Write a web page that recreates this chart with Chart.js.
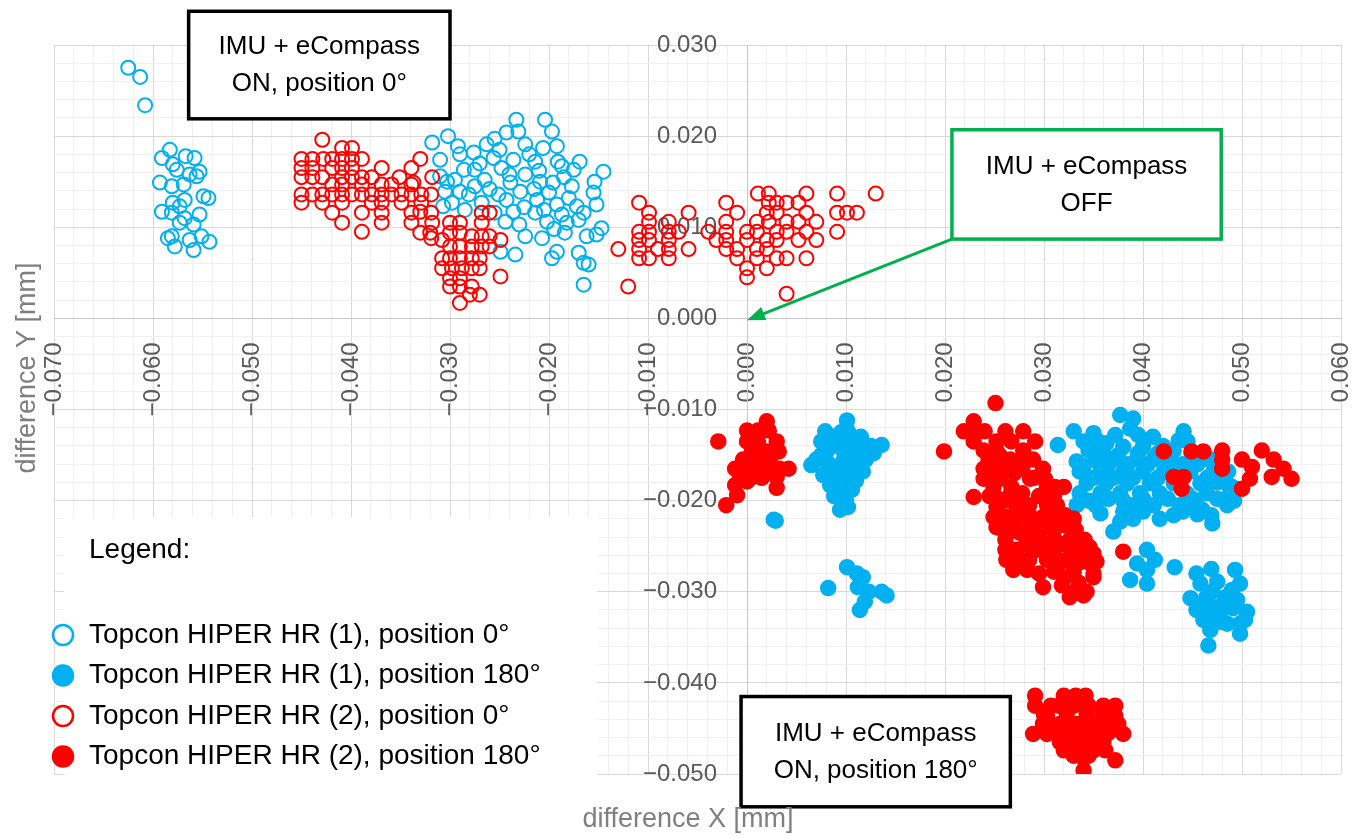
<!DOCTYPE html>
<html>
<head>
<meta charset="utf-8">
<title>difference X / difference Y</title>
<script src="https://cdn.jsdelivr.net/npm/chart.js@4.4.1/dist/chart.umd.min.js"></script>
<style>
  body { margin: 0; background: #ffffff; }
  canvas { display: block; }
</style>
</head>
<body>
<canvas id="scatterplot" width="1365" height="838"></canvas>
<script>
// all values in mm: [difference X, difference Y]
var hiper1Pos0 = [
  [-0.0625, 0.0275], [-0.0613, 0.0265], [-0.0608, 0.0234],
  [-0.0583, 0.0185], [-0.0591, 0.0176], [-0.0567, 0.0178], [-0.0558, 0.0176], [-0.0580, 0.0169],
  [-0.0576, 0.0163], [-0.0553, 0.0161], [-0.0563, 0.0158], [-0.0556, 0.0156], [-0.0593, 0.0149],
  [-0.0581, 0.0145], [-0.0569, 0.0147], [-0.0549, 0.0134], [-0.0544, 0.0132], [-0.0580, 0.0127],
  [-0.0568, 0.0130], [-0.0573, 0.0123], [-0.0591, 0.0117], [-0.0581, 0.0116], [-0.0553, 0.0114],
  [-0.0568, 0.0110], [-0.0559, 0.0103], [-0.0573, 0.0105], [-0.0581, 0.0090], [-0.0551, 0.0090],
  [-0.0543, 0.0084], [-0.0563, 0.0086], [-0.0578, 0.0079], [-0.0559, 0.0075], [-0.0585, 0.0088],
  [-0.0233, 0.0218], [-0.0204, 0.0218], [-0.0197, 0.0205], [-0.0231, 0.0205], [-0.0302, 0.0200],
  [-0.0318, 0.0193], [-0.0243, 0.0204], [-0.0255, 0.0197], [-0.0224, 0.0191], [-0.0192, 0.0189],
  [-0.0292, 0.0189], [-0.0263, 0.0191], [-0.0206, 0.0187], [-0.0276, 0.0182], [-0.0290, 0.0180],
  [-0.0310, 0.0174], [-0.0256, 0.0176], [-0.0236, 0.0174], [-0.0214, 0.0172], [-0.0191, 0.0172],
  [-0.0169, 0.0172], [-0.0145, 0.0161], [-0.0286, 0.0163], [-0.0275, 0.0163], [-0.0248, 0.0165],
  [-0.0224, 0.0158], [-0.0187, 0.0167], [-0.0175, 0.0163], [-0.0303, 0.0150], [-0.0295, 0.0152],
  [-0.0265, 0.0152], [-0.0239, 0.0149], [-0.0209, 0.0150], [-0.0196, 0.0149], [-0.0154, 0.0150],
  [-0.0305, 0.0139], [-0.0281, 0.0136], [-0.0251, 0.0136], [-0.0229, 0.0139], [-0.0177, 0.0145],
  [-0.0155, 0.0138], [-0.0298, 0.0127], [-0.0268, 0.0127], [-0.0243, 0.0130], [-0.0212, 0.0130],
  [-0.0192, 0.0125], [-0.0172, 0.0123], [-0.0152, 0.0125], [-0.0285, 0.0119], [-0.0255, 0.0116],
  [-0.0236, 0.0117], [-0.0214, 0.0116], [-0.0187, 0.0114], [-0.0165, 0.0116], [-0.0244, 0.0106],
  [-0.0202, 0.0106], [-0.0182, 0.0105], [-0.0147, 0.0099], [-0.0224, 0.0090], [-0.0207, 0.0088],
  [-0.0184, 0.0094], [-0.0162, 0.0090], [-0.0152, 0.0092], [-0.0249, 0.0073], [-0.0234, 0.0070],
  [-0.0192, 0.0073], [-0.0170, 0.0072], [-0.0197, 0.0066], [-0.0165, 0.0061], [-0.0160, 0.0059],
  [-0.0165, 0.0037], [-0.0310, 0.0156], [-0.0307, 0.0123], [-0.0270, 0.0170], [-0.0250, 0.0185],
  [-0.0220, 0.0180], [-0.0210, 0.0162], [-0.0260, 0.0142], [-0.0240, 0.0158], [-0.0200, 0.0138],
  [-0.0180, 0.0132], [-0.0225, 0.0122], [-0.0275, 0.0145], [-0.0290, 0.0139], [-0.0205, 0.0119],
  [-0.0170, 0.0108], [-0.0230, 0.0103], [-0.0195, 0.0098], [-0.0215, 0.0142], [-0.0185, 0.0155]
];

var hiper1Pos180 = [
  [0.0101, -0.0112], [0.0079, -0.0124], [0.0102, -0.0124], [0.0075, -0.0135], [0.0091, -0.0134],
  [0.0106, -0.0134], [0.0136, -0.0139], [0.0081, -0.0145], [0.0097, -0.0145], [0.0117, -0.0145],
  [0.0128, -0.0148], [0.0065, -0.0161], [0.0082, -0.0159], [0.0097, -0.0157], [0.0111, -0.0159],
  [0.0077, -0.0172], [0.0091, -0.0172], [0.0104, -0.0172], [0.0117, -0.0168], [0.0084, -0.0183],
  [0.0094, -0.0183], [0.0106, -0.0188], [0.0094, -0.0210], [0.0102, -0.0207], [0.0027, -0.0221],
  [0.0029, -0.0222], [0.0088, -0.0130], [0.0100, -0.0165], [0.0089, -0.0166], [0.0098, -0.0192],
  [0.0110, -0.0142], [0.0070, -0.0155], [0.0085, -0.0140], [0.0095, -0.0125], [0.0115, -0.0130],
  [0.0120, -0.0155], [0.0080, -0.0170], [0.0095, -0.0175], [0.0110, -0.0178], [0.0088, -0.0195],
  [0.0100, -0.0200], [0.0125, -0.0140], [0.0075, -0.0150], [0.0105, -0.0150],
  [0.0082, -0.0296], [0.0101, -0.0273], [0.0111, -0.0280], [0.0117, -0.0284], [0.0112, -0.0295],
  [0.0123, -0.0300], [0.0136, -0.0300], [0.0141, -0.0304], [0.0114, -0.0320], [0.0119, -0.0311],
  [0.0377, -0.0106], [0.0390, -0.0110], [0.0330, -0.0124], [0.0350, -0.0126], [0.0387, -0.0121],
  [0.0441, -0.0124], [0.0436, -0.0134], [0.0314, -0.0139], [0.0340, -0.0135], [0.0363, -0.0137],
  [0.0380, -0.0141], [0.0400, -0.0141], [0.0431, -0.0145], [0.0449, -0.0148], [0.0333, -0.0157],
  [0.0352, -0.0156], [0.0372, -0.0154], [0.0394, -0.0154], [0.0411, -0.0154], [0.0336, -0.0168],
  [0.0357, -0.0168], [0.0380, -0.0168], [0.0400, -0.0168], [0.0421, -0.0168], [0.0448, -0.0168],
  [0.0471, -0.0168], [0.0486, -0.0168], [0.0343, -0.0181], [0.0363, -0.0181], [0.0384, -0.0181],
  [0.0407, -0.0181], [0.0431, -0.0181], [0.0458, -0.0181], [0.0485, -0.0181], [0.0336, -0.0192],
  [0.0357, -0.0192], [0.0377, -0.0192], [0.0397, -0.0192], [0.0417, -0.0192], [0.0444, -0.0192],
  [0.0464, -0.0192], [0.0488, -0.0192], [0.0333, -0.0205], [0.0352, -0.0205], [0.0390, -0.0205],
  [0.0411, -0.0205], [0.0437, -0.0205], [0.0454, -0.0205], [0.0485, -0.0205], [0.0357, -0.0214],
  [0.0417, -0.0220], [0.0431, -0.0216], [0.0469, -0.0216], [0.0377, -0.0223], [0.0390, -0.0220],
  [0.0370, -0.0234], [0.0360, -0.0148], [0.0420, -0.0158], [0.0460, -0.0155], [0.0475, -0.0180],
  [0.0410, -0.0130], [0.0345, -0.0145], [0.0355, -0.0135], [0.0372, -0.0128], [0.0395, -0.0128],
  [0.0420, -0.0140], [0.0440, -0.0160], [0.0455, -0.0160], [0.0470, -0.0155], [0.0350, -0.0175],
  [0.0370, -0.0175], [0.0390, -0.0175], [0.0415, -0.0175], [0.0440, -0.0175], [0.0465, -0.0175],
  [0.0345, -0.0200], [0.0365, -0.0198], [0.0380, -0.0200], [0.0400, -0.0198], [0.0425, -0.0198],
  [0.0450, -0.0198], [0.0475, -0.0198], [0.0380, -0.0212], [0.0400, -0.0212], [0.0440, -0.0212],
  [0.0460, -0.0210], [0.0365, -0.0160], [0.0385, -0.0160], [0.0405, -0.0160], [0.0430, -0.0160],
  [0.0340, -0.0162], [0.0375, -0.0150], [0.0395, -0.0148], [0.0415, -0.0148], [0.0445, -0.0135],
  [0.0490, -0.0185], [0.0492, -0.0200], [0.0470, -0.0225], [0.0455, -0.0215],
  [0.0404, -0.0254], [0.0412, -0.0265], [0.0394, -0.0269], [0.0404, -0.0276], [0.0387, -0.0287],
  [0.0404, -0.0291], [0.0432, -0.0273],
  [0.0454, -0.0280], [0.0469, -0.0275], [0.0493, -0.0276], [0.0458, -0.0291], [0.0475, -0.0289],
  [0.0498, -0.0291], [0.0448, -0.0307], [0.0464, -0.0306], [0.0483, -0.0306], [0.0495, -0.0309],
  [0.0454, -0.0320], [0.0475, -0.0317], [0.0491, -0.0318], [0.0505, -0.0322], [0.0461, -0.0331],
  [0.0478, -0.0333], [0.0498, -0.0335], [0.0503, -0.0331], [0.0468, -0.0342], [0.0498, -0.0346],
  [0.0466, -0.0359], [0.0470, -0.0300], [0.0480, -0.0320], [0.0460, -0.0315], [0.0490, -0.0298],
  [0.0485, -0.0335], [0.0470, -0.0325]
];

var hiper2Pos0 = [
  [-0.0429, 0.0196], [-0.0409, 0.0187], [-0.0399, 0.0187],
  [-0.0450, 0.0175], [-0.0439, 0.0175], [-0.0428, 0.0175], [-0.0419, 0.0175], [-0.0409, 0.0175],
  [-0.0399, 0.0175], [-0.0389, 0.0175], [-0.0330, 0.0175],
  [-0.0450, 0.0165], [-0.0439, 0.0165], [-0.0419, 0.0165], [-0.0409, 0.0165], [-0.0399, 0.0165],
  [-0.0369, 0.0165], [-0.0339, 0.0165],
  [-0.0450, 0.0155], [-0.0439, 0.0155], [-0.0429, 0.0155], [-0.0409, 0.0155], [-0.0399, 0.0155],
  [-0.0389, 0.0155], [-0.0379, 0.0155], [-0.0351, 0.0155], [-0.0318, 0.0155],
  [-0.0419, 0.0147], [-0.0409, 0.0147], [-0.0389, 0.0147], [-0.0369, 0.0147], [-0.0359, 0.0147],
  [-0.0339, 0.0147], [-0.0337, 0.0149],
  [-0.0450, 0.0136], [-0.0439, 0.0136], [-0.0429, 0.0136], [-0.0419, 0.0136], [-0.0409, 0.0136],
  [-0.0399, 0.0136], [-0.0389, 0.0136], [-0.0379, 0.0136], [-0.0369, 0.0136], [-0.0359, 0.0136],
  [-0.0349, 0.0136], [-0.0339, 0.0136], [-0.0329, 0.0136], [-0.0319, 0.0136],
  [-0.0450, 0.0127], [-0.0429, 0.0127], [-0.0409, 0.0127], [-0.0379, 0.0127], [-0.0369, 0.0127],
  [-0.0349, 0.0127], [-0.0329, 0.0127],
  [-0.0419, 0.0116], [-0.0389, 0.0116], [-0.0369, 0.0116], [-0.0339, 0.0116], [-0.0319, 0.0116],
  [-0.0330, 0.0117], [-0.0268, 0.0116], [-0.0260, 0.0116],
  [-0.0409, 0.0105], [-0.0369, 0.0105], [-0.0339, 0.0105], [-0.0318, 0.0105], [-0.0300, 0.0105],
  [-0.0290, 0.0105], [-0.0268, 0.0105],
  [-0.0389, 0.0095], [-0.0330, 0.0094], [-0.0320, 0.0094], [-0.0300, 0.0094], [-0.0290, 0.0094],
  [-0.0319, 0.0088], [-0.0308, 0.0086], [-0.0278, 0.0090], [-0.0268, 0.0090], [-0.0260, 0.0090],
  [-0.0249, 0.0086],
  [-0.0300, 0.0079], [-0.0290, 0.0079], [-0.0278, 0.0079], [-0.0268, 0.0079], [-0.0260, 0.0079],
  [-0.0308, 0.0066], [-0.0300, 0.0066], [-0.0290, 0.0066], [-0.0278, 0.0066], [-0.0270, 0.0066],
  [-0.0308, 0.0055], [-0.0298, 0.0055], [-0.0288, 0.0055], [-0.0278, 0.0055], [-0.0270, 0.0055],
  [-0.0300, 0.0044], [-0.0290, 0.0044], [-0.0249, 0.0046],
  [-0.0300, 0.0035], [-0.0290, 0.0035], [-0.0278, 0.0035], [-0.0280, 0.0026], [-0.0270, 0.0026],
  [-0.0290, 0.0017],
  [-0.0130, 0.0076], [-0.0120, 0.0035],
  [0.0011, 0.0137], [0.0022, 0.0137], [0.0060, 0.0137], [0.0091, 0.0137], [0.0130, 0.0137],
  [-0.0109, 0.0127], [-0.0021, 0.0127], [0.0022, 0.0127], [0.0030, 0.0127], [0.0040, 0.0127],
  [0.0052, 0.0127],
  [-0.0099, 0.0116], [-0.0059, 0.0116], [-0.0010, 0.0116], [0.0020, 0.0116], [0.0030, 0.0116],
  [0.0060, 0.0116], [0.0091, 0.0116], [0.0101, 0.0116], [0.0111, 0.0116],
  [-0.0099, 0.0106], [-0.0079, 0.0106], [-0.0021, 0.0106], [0.0010, 0.0106], [0.0022, 0.0106],
  [0.0040, 0.0106], [0.0052, 0.0106], [0.0070, 0.0106],
  [-0.0109, 0.0095], [-0.0099, 0.0095], [-0.0079, 0.0095], [-0.0069, 0.0095], [-0.0039, 0.0095],
  [-0.0021, 0.0095], [0.0000, 0.0095], [0.0010, 0.0095], [0.0030, 0.0095], [0.0040, 0.0095],
  [0.0060, 0.0095], [0.0091, 0.0095],
  [-0.0109, 0.0086], [-0.0099, 0.0086], [-0.0079, 0.0086], [-0.0031, 0.0086], [-0.0021, 0.0086],
  [0.0000, 0.0086], [0.0020, 0.0086], [0.0030, 0.0086], [0.0052, 0.0086], [0.0070, 0.0086],
  [-0.0109, 0.0076], [-0.0090, 0.0076], [-0.0079, 0.0076], [-0.0059, 0.0076], [-0.0021, 0.0076],
  [-0.0010, 0.0076], [0.0010, 0.0076], [0.0020, 0.0076],
  [-0.0109, 0.0066], [-0.0099, 0.0066], [-0.0079, 0.0066], [-0.0010, 0.0066], [0.0010, 0.0066],
  [0.0030, 0.0066], [0.0040, 0.0066], [0.0060, 0.0066],
  [0.0000, 0.0055], [0.0020, 0.0055], [0.0000, 0.0045], [0.0040, 0.0027]
];

var hiper2Pos180 = [
  [-0.0029, -0.0135], [0.0020, -0.0113], [0.0000, -0.0123], [0.0011, -0.0123], [0.0022, -0.0123],
  [0.0000, -0.0135], [0.0011, -0.0135], [0.0030, -0.0135], [0.0005, -0.0146], [0.0020, -0.0146],
  [0.0032, -0.0146], [-0.0004, -0.0155], [0.0023, -0.0155], [-0.0012, -0.0165], [0.0000, -0.0165],
  [0.0011, -0.0165], [0.0022, -0.0165], [0.0033, -0.0165], [0.0042, -0.0165], [-0.0007, -0.0174],
  [0.0006, -0.0174], [0.0030, -0.0174], [-0.0012, -0.0183], [0.0000, -0.0179], [0.0030, -0.0186],
  [-0.0010, -0.0194], [-0.0021, -0.0205], [0.0010, -0.0155], [0.0015, -0.0175],
  [0.0251, -0.0093], [0.0199, -0.0146], [0.0229, -0.0113], [0.0219, -0.0124], [0.0240, -0.0124],
  [0.0261, -0.0124], [0.0279, -0.0124], [0.0229, -0.0135], [0.0252, -0.0135], [0.0267, -0.0135],
  [0.0291, -0.0135], [0.0239, -0.0145], [0.0252, -0.0145], [0.0279, -0.0145], [0.0244, -0.0155],
  [0.0266, -0.0155], [0.0289, -0.0155], [0.0239, -0.0165], [0.0261, -0.0165], [0.0278, -0.0165],
  [0.0299, -0.0165], [0.0239, -0.0176], [0.0256, -0.0176], [0.0286, -0.0176], [0.0301, -0.0176],
  [0.0249, -0.0185], [0.0267, -0.0185], [0.0303, -0.0185], [0.0311, -0.0185], [0.0320, -0.0185],
  [0.0229, -0.0196], [0.0251, -0.0196], [0.0267, -0.0192], [0.0278, -0.0192], [0.0252, -0.0207],
  [0.0272, -0.0207], [0.0303, -0.0205], [0.0313, -0.0205], [0.0249, -0.0218], [0.0262, -0.0218],
  [0.0276, -0.0216], [0.0299, -0.0218], [0.0320, -0.0216], [0.0321, -0.0216], [0.0252, -0.0229],
  [0.0269, -0.0229], [0.0286, -0.0227], [0.0303, -0.0229], [0.0320, -0.0227], [0.0332, -0.0232],
  [0.0261, -0.0243], [0.0281, -0.0240], [0.0296, -0.0242], [0.0311, -0.0243], [0.0326, -0.0243],
  [0.0341, -0.0243], [0.0261, -0.0254], [0.0272, -0.0254], [0.0293, -0.0254], [0.0310, -0.0258],
  [0.0330, -0.0254], [0.0350, -0.0258], [0.0262, -0.0265], [0.0276, -0.0265], [0.0303, -0.0265],
  [0.0323, -0.0265], [0.0343, -0.0267], [0.0353, -0.0267], [0.0269, -0.0276], [0.0283, -0.0276],
  [0.0310, -0.0278], [0.0330, -0.0278], [0.0350, -0.0280], [0.0299, -0.0295], [0.0318, -0.0293],
  [0.0333, -0.0298], [0.0343, -0.0300], [0.0326, -0.0306], [0.0340, -0.0304], [0.0380, -0.0256],
  [0.0346, -0.0251], [0.0350, -0.0284],
  [0.0255, -0.0150], [0.0270, -0.0170], [0.0250, -0.0165], [0.0265, -0.0195], [0.0285, -0.0205],
  [0.0295, -0.0195], [0.0285, -0.0215], [0.0275, -0.0235], [0.0295, -0.0232], [0.0310, -0.0232],
  [0.0285, -0.0250], [0.0300, -0.0250], [0.0320, -0.0248], [0.0285, -0.0265], [0.0315, -0.0270],
  [0.0335, -0.0268], [0.0295, -0.0280], [0.0320, -0.0285], [0.0335, -0.0290], [0.0270, -0.0225],
  [0.0260, -0.0200], [0.0245, -0.0175], [0.0230, -0.0125], [0.0280, -0.0155], [0.0290, -0.0175],
  [0.0310, -0.0195], [0.0330, -0.0220], [0.0340, -0.0255], [0.0310, -0.0215], [0.0245, -0.0195],
  [0.0255, -0.0230],
  [0.0421, -0.0146], [0.0449, -0.0146], [0.0461, -0.0146], [0.0480, -0.0145], [0.0480, -0.0155],
  [0.0480, -0.0165], [0.0431, -0.0174], [0.0441, -0.0174], [0.0439, -0.0187], [0.0500, -0.0155],
  [0.0510, -0.0163], [0.0508, -0.0176], [0.0500, -0.0187], [0.0520, -0.0145], [0.0532, -0.0155],
  [0.0530, -0.0174], [0.0542, -0.0165], [0.0550, -0.0176],
  [0.0291, -0.0414], [0.0320, -0.0414], [0.0332, -0.0414], [0.0342, -0.0414], [0.0291, -0.0425],
  [0.0307, -0.0425], [0.0372, -0.0425], [0.0303, -0.0436], [0.0323, -0.0434], [0.0343, -0.0434],
  [0.0359, -0.0434], [0.0372, -0.0436], [0.0299, -0.0445], [0.0316, -0.0445], [0.0333, -0.0445],
  [0.0350, -0.0445], [0.0364, -0.0445], [0.0289, -0.0456], [0.0303, -0.0456], [0.0320, -0.0456],
  [0.0337, -0.0456], [0.0354, -0.0456], [0.0380, -0.0456], [0.0316, -0.0465], [0.0332, -0.0465],
  [0.0347, -0.0465], [0.0360, -0.0465], [0.0320, -0.0474], [0.0335, -0.0474], [0.0350, -0.0474],
  [0.0362, -0.0474], [0.0340, -0.0483], [0.0372, -0.0485], [0.0340, -0.0496],
  [0.0300, -0.0435], [0.0315, -0.0425], [0.0330, -0.0425], [0.0345, -0.0425], [0.0360, -0.0425],
  [0.0310, -0.0450], [0.0325, -0.0450], [0.0340, -0.0450], [0.0355, -0.0450], [0.0325, -0.0470],
  [0.0340, -0.0470], [0.0355, -0.0470], [0.0345, -0.0480], [0.0330, -0.0480], [0.0365, -0.0455],
  [0.0375, -0.0445]
];

var seriesLabels = [
  'Topcon HIPER HR (1), position 0°',
  'Topcon HIPER HR (1), position 180°',
  'Topcon HIPER HR (2), position 0°',
  'Topcon HIPER HR (2), position 180°'
];
var blue = '#00b0f0';
var red = '#ff0000';

var xRange = [-0.07, 0.06];
var yRange = [-0.05, 0.03];
var minorStep = 0.002;

var notes = [
  { lines: ['IMU + eCompass', 'ON, position 0°'], x0: -0.0564, x1: -0.0300, y0: 0.0337, y1: 0.0219, color: '#000000' },
  { lines: ['IMU + eCompass', 'OFF'], x0: 0.0207, x1: 0.0479, y0: 0.0207, y1: 0.0087, color: '#00b050' },
  { lines: ['IMU + eCompass', 'ON, position 180°'], x0: -0.0006, x1: 0.0266, y0: -0.0415, y1: -0.0536, color: '#000000' }
];

function toPoints(list) {
  return list.map(function (p) { return { x: p[0], y: p[1] }; });
}

function isMajor(value) {
  return Math.round(value * 1000) % 10 === 0;
}

function tickText(value) {
  if (!isMajor(value)) return '';
  return value.toFixed(3).replace('-', '\u2212');
}

function hollow(label, color, data) {
  return {
    label: label, data: toPoints(data), order: color === red ? 0 : 1,
    pointRadius: 7, pointBorderWidth: 2, pointHoverRadius: 7,
    pointBackgroundColor: 'rgba(255,255,255,0)', pointBorderColor: color,
    backgroundColor: 'rgba(255,255,255,0)', borderColor: color
  };
}

function filled(label, color, data) {
  return {
    label: label, data: toPoints(data), order: color === red ? 0 : 1,
    pointRadius: 7.5, pointBorderWidth: 1.5, pointHoverRadius: 7.5,
    pointBackgroundColor: color, pointBorderColor: color,
    backgroundColor: color, borderColor: color
  };
}

// boxes, arrow, legend panel and axis titles
var overlay = {
  id: 'overlay',
  afterDraw: function (chart) {
    var ctx = chart.ctx;
    var xs = chart.scales.x, ys = chart.scales.y;
    var area = chart.chartArea;
    ctx.save();

    // legend panel sits inside the plot, lower left
    var lx = area.left + 10, ly = area.top + 472;
    ctx.fillStyle = '#ffffff';
    ctx.fillRect(lx, ly, 533, 262);
    ctx.fillStyle = '#000000';
    ctx.font = '28px "Liberation Sans", Arial, sans-serif';
    ctx.textAlign = 'left';
    ctx.textBaseline = 'middle';
    ctx.fillText('Legend:', area.left + 35, ly + 33);
    chart.data.datasets.forEach(function (ds, i) {
      var cy = ly + 118 + i * 40.5;
      ctx.beginPath();
      ctx.arc(area.left + 9, cy, 10, 0, Math.PI * 2);
      ctx.fillStyle = ds.pointBackgroundColor;
      ctx.fill();
      ctx.lineWidth = 2.5;
      ctx.strokeStyle = ds.pointBorderColor;
      ctx.stroke();
      ctx.fillStyle = '#000000';
      ctx.fillText(ds.label, area.left + 35, cy);
    });

    // arrow from the green box to the origin
    var ax = xs.getPixelForValue(notes[1].x0), ay = ys.getPixelForValue(notes[1].y1);
    var tx = xs.getPixelForValue(0), ty = ys.getPixelForValue(-0.0002);
    var ang = Math.atan2(ty - ay, tx - ax);
    ctx.strokeStyle = '#00b050';
    ctx.fillStyle = '#00b050';
    ctx.lineWidth = 3;
    ctx.beginPath();
    ctx.moveTo(ax, ay);
    ctx.lineTo(tx - 14 * Math.cos(ang), ty - 14 * Math.sin(ang));
    ctx.stroke();
    ctx.beginPath();
    ctx.moveTo(tx, ty);
    ctx.lineTo(tx - 18 * Math.cos(ang) + 7 * Math.sin(ang), ty - 18 * Math.sin(ang) - 7 * Math.cos(ang));
    ctx.lineTo(tx - 18 * Math.cos(ang) - 7 * Math.sin(ang), ty - 18 * Math.sin(ang) + 7 * Math.cos(ang));
    ctx.closePath();
    ctx.fill();

    // text boxes
    ctx.font = '26px "Liberation Sans", Arial, sans-serif';
    ctx.textAlign = 'center';
    notes.forEach(function (n) {
      var l = xs.getPixelForValue(n.x0), r = xs.getPixelForValue(n.x1);
      var t = ys.getPixelForValue(n.y0), b = ys.getPixelForValue(n.y1);
      ctx.fillStyle = '#ffffff';
      ctx.fillRect(l, t, r - l, b - t);
      ctx.lineWidth = 3.5;
      ctx.strokeStyle = n.color;
      ctx.strokeRect(l, t, r - l, b - t);
      ctx.fillStyle = '#000000';
      var mid = (t + b) / 2;
      ctx.fillText(n.lines[0], (l + r) / 2, mid - 18);
      ctx.fillText(n.lines[1], (l + r) / 2, mid + 19);
    });

    // axis titles
    ctx.fillStyle = '#7f7f7f';
    ctx.font = '27px "Liberation Sans", Arial, sans-serif';
    ctx.fillText('difference X [mm]', 688, 820);
    ctx.translate(28, 368);
    ctx.rotate(-Math.PI / 2);
    ctx.fillText('difference Y [mm]', 0, 0);
    ctx.restore();
  }
};

var gridColor = function (c) {
  return isMajor(c.tick.value) ? '#d9d9d9' : '#f0f0f0';
};

var ctx = document.getElementById('scatterplot').getContext('2d');
var chart = new Chart(ctx, {
  type: 'scatter',
  data: {
    datasets: [
      hollow(seriesLabels[0], blue, hiper1Pos0),
      filled(seriesLabels[1], blue, hiper1Pos180),
      hollow(seriesLabels[2], red, hiper2Pos0),
      filled(seriesLabels[3], red, hiper2Pos180)
    ]
  },
  options: {
    responsive: false,
    animation: false,
    layout: { padding: { left: 54, right: 24, top: 45, bottom: 64 } },
    plugins: { legend: { display: false }, tooltip: { enabled: false } },
    scales: {
      x: {
        type: 'linear',
        min: xRange[0], max: xRange[1],
        position: { y: 0 },
        afterFit: function (scale) {
          scale.height = 0;
          scale.paddingLeft = 0;
          scale.paddingRight = 0;
        },
        grid: { color: gridColor, lineWidth: 1, drawTicks: false },
        border: { color: '#c8c8c8', width: 1 },
        ticks: {
          stepSize: minorStep, autoSkip: false,
          minRotation: 90, maxRotation: 90, padding: 24,
          color: '#595959',
          font: { family: '"Liberation Sans", Arial, sans-serif', size: 24 },
          callback: function (value) { return tickText(value); }
        }
      },
      y: {
        type: 'linear',
        min: yRange[0], max: yRange[1],
        position: { x: 0 },
        afterFit: function (scale) {
          scale.width = 0;
          scale.paddingTop = 0;
          scale.paddingBottom = 0;
        },
        grid: { color: gridColor, lineWidth: 1, drawTicks: false },
        border: { color: '#c8c8c8', width: 1 },
        ticks: {
          stepSize: minorStep, autoSkip: false,
          color: '#595959',
          font: { family: '"Liberation Sans", Arial, sans-serif', size: 24 },
          // the axis sits inside the plot, so the gap to the line is kept in the label
          callback: function (value) {
            var s = tickText(value);
            return s ? s + '\u2003\u2005' : '';
          }
        }
      }
    }
  },
  plugins: [overlay]
});
</script>
</body>
</html>
